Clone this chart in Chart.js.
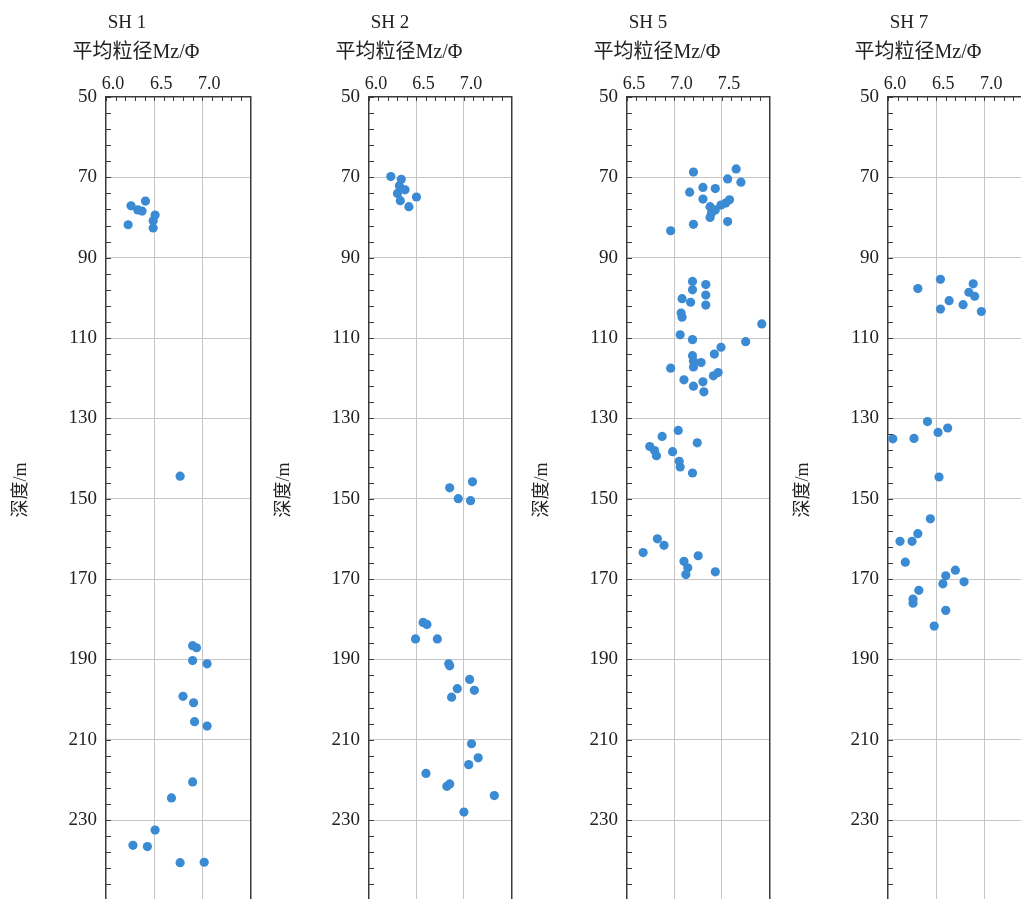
<!DOCTYPE html>
<html>
<head>
<meta charset="utf-8">
<script src="https://cdn.jsdelivr.net/npm/chart.js@4.4.1/dist/chart.umd.min.js"></script>
<style>
  html, body { margin: 0; padding: 0; background: #fff; }
  body { width: 1021px; height: 899px; overflow: hidden; position: relative; }
  canvas { position: absolute; top: 0; }
</style>
</head>
<body>
<canvas id="c0" width="255" height="905" style="left:0px"></canvas>
<canvas id="c1" width="253" height="905" style="left:263px"></canvas>
<canvas id="c2" width="253" height="905" style="left:521px"></canvas>
<canvas id="c3" width="255" height="905" style="left:782px"></canvas>
<script>
const wells = ['SH 1', 'SH 2', 'SH 5', 'SH 7'];
const mzMin = [6.0, 6.0, 6.5, 6.0];
const depthMin = 50;
const depthMax = 250;

const sh1Mz = [6.26, 6.33, 6.41, 6.375, 6.51, 6.49, 6.49, 6.23, 6.77, 6.90, 6.94, 6.90, 7.05, 6.80, 6.91, 6.92, 7.05, 6.90, 6.68, 6.51, 6.28, 6.43, 6.77, 7.02];
const sh1Depth = [77.1, 78.1, 75.9, 78.4, 79.4, 80.8, 82.6, 81.8, 144.4, 186.6, 187.1, 190.3, 191.1, 199.2, 200.8, 205.5, 206.6, 220.5, 224.5, 232.5, 236.3, 236.6, 240.6, 240.5];

const sh2Mz = [6.23, 6.34, 6.32, 6.38, 6.30, 6.50, 6.33, 6.42, 6.85, 7.09, 6.94, 7.07, 6.57, 6.61, 6.49, 6.72, 6.84, 6.85, 7.06, 7.11, 6.93, 6.87, 7.08, 7.15, 7.05, 6.60, 6.82, 6.85, 7.32, 7.00];
const sh2Depth = [69.8, 70.5, 72.1, 73.1, 74.0, 74.9, 75.8, 77.3, 147.3, 145.8, 150.0, 150.5, 180.8, 181.3, 184.9, 184.9, 191.1, 191.6, 195.0, 197.7, 197.3, 199.4, 211.0, 214.5, 216.2, 218.4, 221.6, 221.0, 223.9, 228.0];

const sh5Mz = [7.20, 7.65, 7.56, 7.70, 7.30, 7.43, 7.16, 7.30, 7.58, 7.54, 7.375, 7.49, 7.43, 7.39, 7.375, 7.56, 7.20, 6.96,
  7.19, 7.19, 7.33, 7.33, 7.33, 7.08, 7.17, 7.07, 7.08, 7.92, 7.06, 7.19, 7.75, 7.49, 7.42, 7.19, 7.20, 7.28, 7.20, 6.96, 7.46, 7.41, 7.10, 7.30, 7.20, 7.31,
  7.04, 6.87, 7.24, 6.74, 6.79, 6.81, 6.98, 7.05, 7.06, 7.19,
  6.82, 6.89, 6.67, 7.25, 7.10, 7.14, 7.12, 7.43];
const sh5Depth = [68.7, 67.9, 70.4, 71.2, 72.5, 72.8, 73.7, 75.4, 75.6, 76.4, 77.3, 76.9, 78.1, 78.9, 80.0, 81.0, 81.7, 83.3,
  95.9, 98.0, 96.7, 99.3, 101.8, 100.2, 101.1, 103.8, 104.8, 106.5, 109.2, 110.4, 110.9, 112.3, 114.0, 114.4, 115.8, 116.1, 117.2, 117.5, 118.6, 119.4, 120.4, 120.9, 122.0, 123.4,
  133.0, 134.5, 136.1, 137.0, 138.0, 139.3, 138.3, 140.7, 142.1, 143.6,
  160.0, 161.6, 163.4, 164.2, 165.6, 167.2, 168.9, 168.2];

const sh7Mz = [6.31, 6.545, 6.885, 6.84, 6.90, 6.635, 6.78, 6.545, 6.97, 6.41, 6.62, 6.52, 6.05, 6.27, 6.53, 6.44, 6.31, 6.25, 6.125, 6.18, 6.70, 6.60, 6.79, 6.57, 6.32, 6.26, 6.26, 6.60, 6.48];
const sh7Depth = [97.7, 95.4, 96.5, 98.6, 99.6, 100.7, 101.7, 102.8, 103.4, 130.8, 132.4, 133.5, 135.1, 135.0, 144.6, 155.0, 158.7, 160.6, 160.6, 165.8, 167.8, 169.2, 170.7, 171.2, 172.8, 175.0, 176.0, 177.8, 181.7];

const mzSeries = [sh1Mz, sh2Mz, sh5Mz, sh7Mz];
const depthSeries = [sh1Depth, sh2Depth, sh5Depth, sh7Depth];

const FONT = "'Liberation Serif', 'Noto Sans CJK SC', serif";
const GRID = '#c6c6c6';
const FRAME = '#3a3a3a';

// no extra room for half labels at the axis ends
function noPad(s) {
  s.paddingTop = 0;
  s.paddingBottom = 0;
  s.paddingLeft = 0;
  s.paddingRight = 0;
}

// minor ticks pointing inward + titles
const decor = {
  id: 'decor',
  afterDraw(chart, args, opts) {
    const { ctx, chartArea: a, scales: { x, y } } = chart;
    ctx.save();
    ctx.strokeStyle = FRAME;
    ctx.lineWidth = 1;
    ctx.beginPath();
    for (let i = 0; i <= Math.round((x.max - x.min) / 0.1); i++) {
      const px = Math.round(x.getPixelForValue(x.min + i * 0.1)) + 0.5;
      ctx.moveTo(px, a.top);
      ctx.lineTo(px, a.top + 4);
    }
    for (let v = y.min; v <= y.max; v += 4) {
      const py = Math.round(y.getPixelForValue(v)) + 0.5;
      ctx.moveTo(a.left, py);
      ctx.lineTo(a.left + 5, py);
    }
    ctx.stroke();

    ctx.fillStyle = '#222';
    ctx.textAlign = 'center';
    ctx.textBaseline = 'middle';
    ctx.font = '19px ' + FONT;
    ctx.fillText(opts.well, a.left + 21, 23);
    ctx.font = '20px ' + FONT;
    ctx.fillText('平均粒径Mz/Φ', a.left + 30, 53);
    ctx.translate(a.left - 85, 490);
    ctx.rotate(-Math.PI / 2);
    ctx.font = '18px ' + FONT;
    ctx.fillText('深度/m', 0, 0);
    ctx.restore();
  }
};

wells.forEach((well, i) => {
  const xmin = mzMin[i];
  const xmax = xmin + 1.5;
  const points = mzSeries[i].map((v, k) => ({ x: v, y: depthSeries[i][k] }));

  new Chart(document.getElementById('c' + i), {
    type: 'scatter',
    data: {
      datasets: [{
        data: points,
        backgroundColor: '#3a8bd3',
        pointRadius: 4.6,
        pointBorderWidth: 0
      }]
    },
    plugins: [decor],
    options: {
      responsive: false,
      animation: false,
      events: [],
      layout: { padding: { top: 57, right: 2, bottom: 4, left: 0 } },
      plugins: {
        legend: { display: false },
        tooltip: { enabled: false },
        decor: { well: well }
      },
      scales: {
        x: {
          type: 'linear',
          position: 'top',
          min: xmin,
          max: xmax,
          afterFit: (s) => { s.height = 40; noPad(s); },
          ticks: {
            stepSize: 0.5,
            padding: 2,
            labelOffset: 7,
            color: '#222',
            font: { family: FONT, size: 18 },
            maxRotation: 0,
            callback: (v) => (v >= xmax - 1e-6 ? '' : v.toFixed(1))
          },
          grid: {
            drawTicks: false,
            color: (c) => (c.tick && (Math.abs(c.tick.value - xmin) < 1e-6 || Math.abs(c.tick.value - xmax) < 1e-6)) ? 'rgba(0,0,0,0)' : GRID
          },
          border: { display: true, color: FRAME, width: 1.5 }
        },
        y: {
          type: 'linear',
          position: 'left',
          reverse: true,
          min: depthMin,
          max: depthMax,
          afterFit: (s) => { s.width = 106; noPad(s); },
          ticks: {
            stepSize: 20,
            padding: 9,
            color: '#222',
            font: { family: FONT, size: 19 },
            callback: (v) => (v >= depthMax ? '' : v)
          },
          grid: {
            drawTicks: false,
            color: (c) => (c.tick && (c.tick.value === depthMin || c.tick.value === depthMax)) ? 'rgba(0,0,0,0)' : GRID
          },
          border: { display: true, color: FRAME, width: 1.5 }
        },
        yRight: {
          type: 'linear',
          position: 'right',
          display: true,
          afterFit: (s) => { s.width = 0; noPad(s); },
          ticks: { display: false },
          grid: { display: true, drawOnChartArea: false, drawTicks: false, color: 'rgba(0,0,0,0)' },
          border: { display: true, color: FRAME, width: 1.5 }
        }
      }
    }
  });
});
</script>
</body>
</html>
